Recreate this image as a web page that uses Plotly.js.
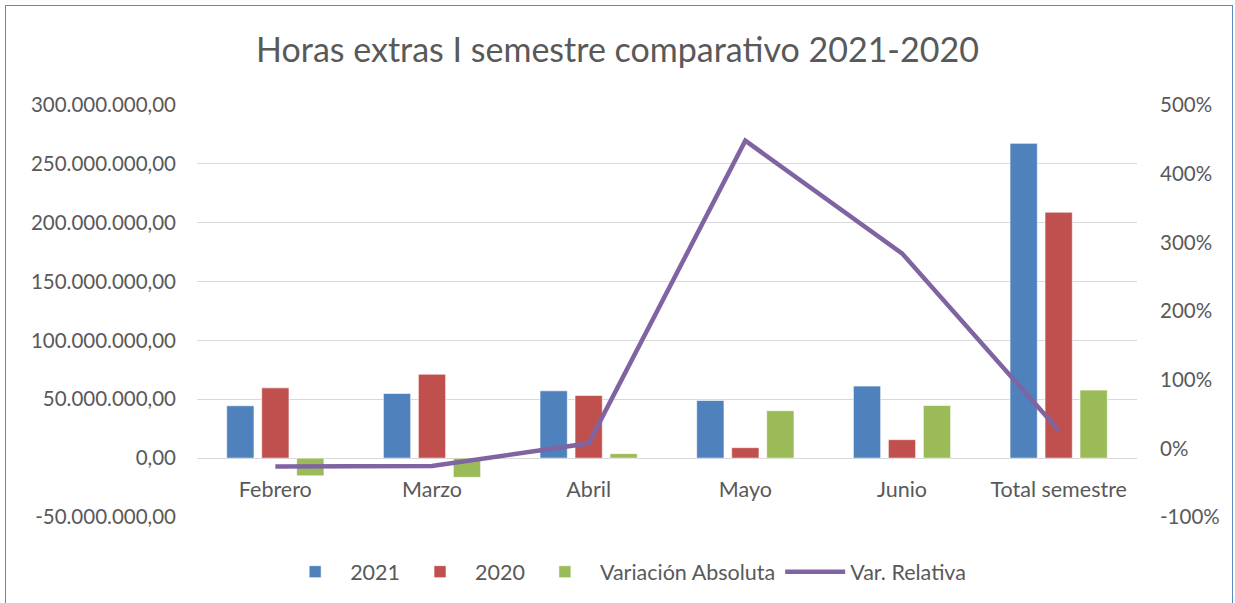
<!DOCTYPE html>
<html>
<head>
<meta charset="utf-8">
<script src="https://cdn.plot.ly/plotly-3.0.1.min.js"></script>
<style>
html,body{margin:0;padding:0;background:#fff;overflow:hidden;}
#chart{position:absolute;left:0;top:0;width:1235px;height:603px;}
#frame{position:absolute;left:5px;top:5px;width:1226px;height:640px;border:1.5px solid #5a8ac6;pointer-events:none;}
</style>
</head>
<body>
<div id="chart"></div>
<div id="frame"></div>
<script>
const categories = ["Febrero","Marzo","Abril","Mayo","Junio","Total semestre"];
const values2021 = [44500000, 55000000, 57200000, 49000000, 61200000, 267400000];
const values2020 = [59700000, 71300000, 53200000, 8900000, 15700000, 208900000];
const variacionAbsoluta = [-15000000, -16300000, 3800000, 40300000, 44700000, 57800000];
const variacionRelativa = [-0.266, -0.257, 0.073, 4.48, 2.84, 0.262];
const leftTicks = [-50000000, 0, 50000000, 100000000, 150000000, 200000000, 250000000, 300000000];
const leftTickLabels = ["-50.000.000,00","0,00","50.000.000,00","100.000.000,00","150.000.000,00","200.000.000,00","250.000.000,00","300.000.000,00"];
const rightTicks = [-1, 0, 1, 2, 3, 4, 5];
const rightTickLabels = ["-100%","0%","100%","200%","300%","400%","500%"];

const fontFam = "Lato, 'Open Sans', sans-serif";
const txt = "#595959";

const barLine = {color: "rgba(255,255,255,0.6)", width: 1};
const traces = [
  {type:"bar", name:"2021", x:categories, y:values2021, marker:{color:"#4F81BD", line:barLine}, hoverinfo:"skip"},
  {type:"bar", name:"2020", x:categories, y:values2020, marker:{color:"#C0504D", line:barLine}, hoverinfo:"skip"},
  {type:"bar", name:"Variación Absoluta", x:categories, y:variacionAbsoluta, marker:{color:"#9BBB59", line:barLine}, hoverinfo:"skip"},
  {type:"scatter", mode:"lines", name:"Var. Relativa", x:categories, y:variacionRelativa, yaxis:"y2",
   line:{color:"#8064A2", width:4.5}, hoverinfo:"skip"}
];

const layout = {
  width:1235, height:603,
  margin:{l:197, r:98, t:105, b:85},
  paper_bgcolor:"rgba(0,0,0,0)", plot_bgcolor:"rgba(0,0,0,0)",
  font:{family:fontFam, color:txt, size:20},
  title:{text:"Horas extras I semestre comparativo 2021-2020", font:{family:fontFam, size:34, color:txt}, x:0.5, xanchor:"center", y:0.917, yanchor:"middle"},
  barmode:"group", bargap:0.33, bargroupgap:0.22,
  showlegend:true,
  legend:{orientation:"h", x:0.456, xanchor:"center", y:-0.13, yanchor:"middle", font:{size:21.5, color:txt, family:fontFam}, traceorder:"normal", itemwidth:60},
  xaxis:{type:"category", anchor:"free", position:0.1416, showgrid:false, showline:false, zeroline:false,
         ticks:"", ticklabelstandoff:16, tickfont:{size:21.5, color:txt}},
  yaxis:{range:[-50000000, 300000000], tickvals:leftTicks, ticktext:leftTickLabels, showgrid:true, gridcolor:"#d9d9d9", gridwidth:1,
         zeroline:true, zerolinecolor:"#d9d9d9", zerolinewidth:1, showline:false, ticks:"", ticklabelstandoff:20, tickfont:{size:20.5, color:txt}},
  yaxis2:{range:[-1, 5], tickvals:rightTicks, ticktext:rightTickLabels, overlaying:"y", side:"right", showgrid:false, zeroline:false,
          showline:false, ticks:"", ticklabelstandoff:22, tickfont:{size:20.5, color:txt}}
};

Plotly.newPlot("chart", traces, layout, {staticPlot:true, displayModeBar:false});
</script>
</body>
</html>
